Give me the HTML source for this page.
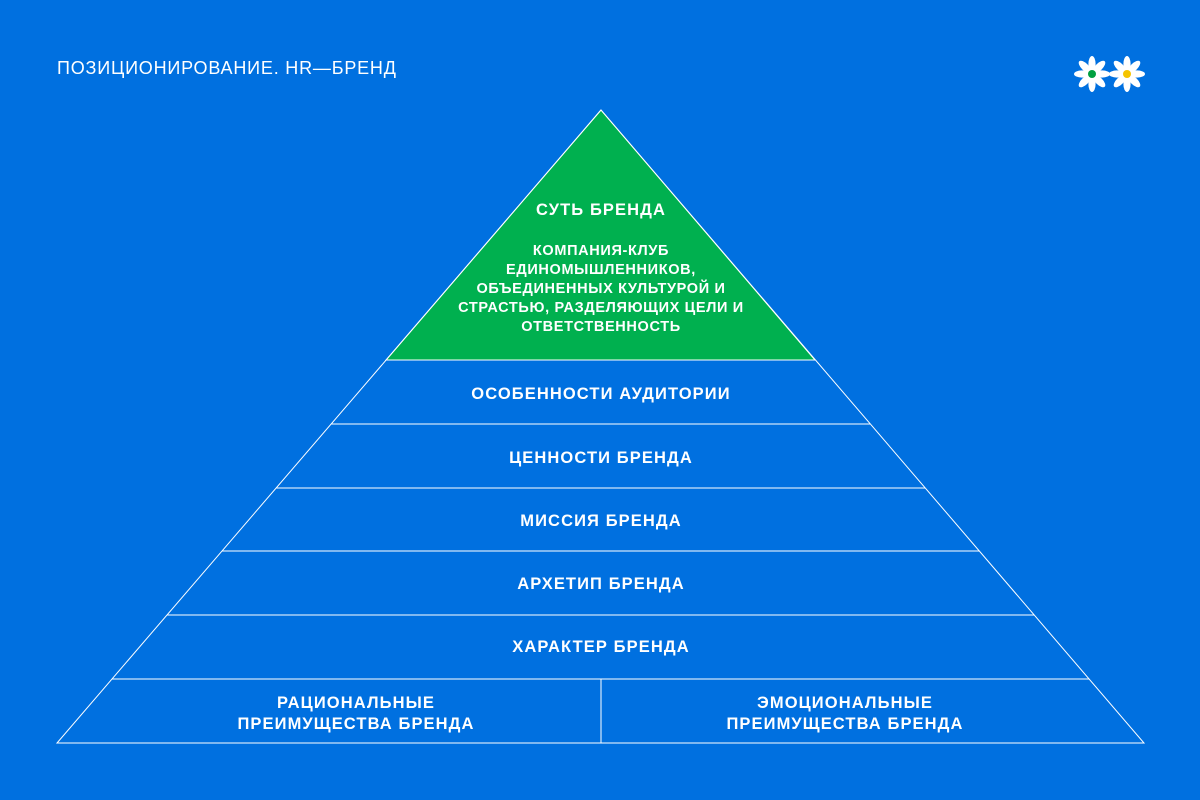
<!DOCTYPE html>
<html><head><meta charset="utf-8"><style>
html,body{margin:0;padding:0;background:#0070E0;}
svg{display:block}
text{font-family:"Liberation Sans",sans-serif;fill:#fff}
.b{font-weight:bold;font-size:16.5px;text-anchor:middle;letter-spacing:1.1px}
.s{font-weight:bold;font-size:14.5px;text-anchor:middle;letter-spacing:0.65px}
</style></head><body>
<svg width="1200" height="800" viewBox="0 0 1200 800">
<rect width="1200" height="800" fill="#0070E0"/>
<text x="57" y="74" font-size="18" letter-spacing="0.8">ПОЗИЦИОНИРОВАНИЕ. HR—БРЕНД</text>
<defs>
<g id="fl">
<g fill="#fff">
<ellipse cx="0" cy="-10" rx="3.6" ry="8"/>
<ellipse cx="0" cy="-10" rx="3.6" ry="8" transform="rotate(45)"/>
<ellipse cx="0" cy="-10" rx="3.6" ry="8" transform="rotate(90)"/>
<ellipse cx="0" cy="-10" rx="3.6" ry="8" transform="rotate(135)"/>
<ellipse cx="0" cy="-10" rx="3.6" ry="8" transform="rotate(180)"/>
<ellipse cx="0" cy="-10" rx="3.6" ry="8" transform="rotate(225)"/>
<ellipse cx="0" cy="-10" rx="3.6" ry="8" transform="rotate(270)"/>
<ellipse cx="0" cy="-10" rx="3.6" ry="8" transform="rotate(315)"/>
<circle r="5"/>
</g></g></defs>
<use href="#fl" x="1092" y="74"/>
<circle cx="1092" cy="74" r="4" fill="#00A040"/>
<use href="#fl" x="1127" y="74"/>
<circle cx="1127" cy="74" r="4" fill="#F5C400"/>
<polygon points="601,110 386,360 815,360" fill="#00B04F" stroke="#fff" stroke-width="1"/>
<g stroke="#fff" stroke-width="1" fill="none">
<polygon points="601,110 57,743 1144,743"/>
<line x1="386" y1="360" x2="815" y2="360"/>
<line x1="331" y1="424" x2="870" y2="424"/>
<line x1="276" y1="488" x2="925" y2="488"/>
<line x1="222" y1="551" x2="979" y2="551"/>
<line x1="167" y1="615" x2="1034" y2="615"/>
<line x1="112" y1="679" x2="1089" y2="679"/>
<line x1="601" y1="679" x2="601" y2="743"/>
</g>
<text class="b" x="601" y="215">СУТЬ БРЕНДА</text>
<text class="s" x="601" y="255">КОМПАНИЯ-КЛУБ</text>
<text class="s" x="601" y="274">ЕДИНОМЫШЛЕННИКОВ,</text>
<text class="s" x="601" y="293">ОБЪЕДИНЕННЫХ КУЛЬТУРОЙ И</text>
<text class="s" x="601" y="312">СТРАСТЬЮ, РАЗДЕЛЯЮЩИХ ЦЕЛИ И</text>
<text class="s" x="601" y="331">ОТВЕТСТВЕННОСТЬ</text>
<text class="b" x="601" y="399">ОСОБЕННОСТИ АУДИТОРИИ</text>
<text class="b" x="601" y="463">ЦЕННОСТИ БРЕНДА</text>
<text class="b" x="601" y="526">МИССИЯ БРЕНДА</text>
<text class="b" x="601" y="589">АРХЕТИП БРЕНДА</text>
<text class="b" x="601" y="652">ХАРАКТЕР БРЕНДА</text>
<text class="b" x="356" y="708">РАЦИОНАЛЬНЫЕ</text>
<text class="b" x="356" y="729">ПРЕИМУЩЕСТВА БРЕНДА</text>
<text class="b" x="845" y="708">ЭМОЦИОНАЛЬНЫЕ</text>
<text class="b" x="845" y="729">ПРЕИМУЩЕСТВА БРЕНДА</text>
</svg>
</body></html>
